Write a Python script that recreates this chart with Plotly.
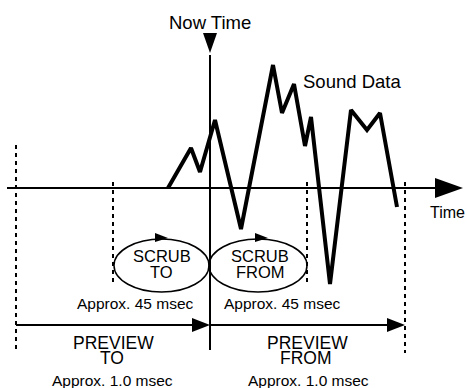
import plotly.graph_objects as go

# ── canvas (pixel coordinates, y grows downward) ──────────────────────────
W, H = 467, 388
INK = "#000000"
FONT = "Liberation Sans, Arial, Helvetica, sans-serif"

# ── sound data waveform ───────────────────────────────────────────────────
wave_x = [168, 191, 200, 215, 241, 273, 282, 294, 305, 311, 330, 351, 367, 380, 397]
wave_y = [188, 148, 172, 120, 229, 65, 113, 84, 146, 117, 284, 110, 130, 113, 207]

# ── time markers ──────────────────────────────────────────────────────────
axis_y = 188
axis_x0, axis_x1 = 7, 463
now_x = 210
now_top, now_bottom = 55, 350

# dotted guides: x, top, bottom
guide_x = [16, 113, 307, 405]
guide_top = [145, 182, 182, 182]
guide_bottom = [353, 283, 282, 353]

# scrub ellipses: left, right, top, bottom
scrub_x0 = [114, 209]
scrub_x1 = [209, 307]
scrub_y0, scrub_y1 = 239, 292
scrub_arrow_tip = [168, 268]

# preview arrows
preview_y = 325
preview_x0 = [16, 210]
preview_x1 = [210, 405]

fig = go.Figure()

fig.add_trace(go.Scatter(
    x=wave_x, y=wave_y, mode="lines",
    line=dict(color=INK, width=4),
    hoverinfo="skip", showlegend=False,
))

shapes = []


def tri(pts):
    return "M " + " L ".join(f"{a},{b}" for a, b in pts) + " Z"


# time axis + arrowhead
shapes.append(dict(type="line", x0=axis_x0, x1=axis_x1 - 26, y0=axis_y, y1=axis_y,
                   line=dict(color=INK, width=2)))
shapes.append(dict(type="path", path=tri([(axis_x1 - 28, axis_y - 10),
                                          (axis_x1, axis_y),
                                          (axis_x1 - 28, axis_y + 10)]),
                   fillcolor=INK, line=dict(color=INK, width=0)))

# now time line + marker
shapes.append(dict(type="line", x0=now_x, x1=now_x, y0=now_top, y1=now_bottom,
                   line=dict(color=INK, width=2)))
shapes.append(dict(type="path", path=tri([(now_x - 7, 33), (now_x + 7, 33), (now_x, 53)]),
                   fillcolor=INK, line=dict(color=INK, width=0)))

# dotted guides
for gx, gt, gb in zip(guide_x, guide_top, guide_bottom):
    shapes.append(dict(type="line", x0=gx, x1=gx, y0=gt, y1=gb,
                       line=dict(color=INK, width=2, dash="4px,4px")))

# scrub ellipses with small arrows on top
for ex0, ex1, tip in zip(scrub_x0, scrub_x1, scrub_arrow_tip):
    shapes.append(dict(type="circle", x0=ex0, x1=ex1, y0=scrub_y0, y1=scrub_y1,
                       line=dict(color=INK, width=1.5)))
    shapes.append(dict(type="path", path=tri([(tip - 13, scrub_y0 - 6),
                                              (tip, scrub_y0 - 1),
                                              (tip - 13, scrub_y0 + 3)]),
                       fillcolor=INK, line=dict(color=INK, width=0)))

# preview arrows
for px0, px1 in zip(preview_x0, preview_x1):
    shapes.append(dict(type="line", x0=px0, x1=px1 - 16, y0=preview_y, y1=preview_y,
                       line=dict(color=INK, width=2)))
    shapes.append(dict(type="path", path=tri([(px1 - 18, preview_y - 7),
                                              (px1, preview_y),
                                              (px1 - 18, preview_y + 7)]),
                       fillcolor=INK, line=dict(color=INK, width=0)))

# ── labels: text, x, y, size ─────────────────────────────────────────────
labels = [
    ("Now Time", 210, 22, 18.5),
    ("Sound Data", 352, 81, 18.5),
    ("Time", 447, 212, 16),
    ("SCRUB", 162, 256, 16.5),
    ("TO", 161, 272, 16.5),
    ("SCRUB", 260, 256, 16.5),
    ("FROM", 260, 272, 16.5),
    ("Approx. 45 msec", 135, 303, 15.5),
    ("Approx. 45 msec", 282, 303, 15.5),
    ("PREVIEW", 113, 343, 17.5),
    ("TO", 112, 358, 17.5),
    ("PREVIEW", 307, 343, 17.5),
    ("FROM", 306, 358, 17.5),
    ("Approx. 1.0 msec", 112, 380, 15.5),
    ("Approx. 1.0 msec", 308, 380, 15.5),
]

annotations = [
    dict(text=t, x=x, y=y, xref="x", yref="y", showarrow=False,
         xanchor="center", yanchor="middle",
         font=dict(family=FONT, size=s, color=INK))
    for t, x, y, s in labels
]

fig.update_layout(
    width=W, height=H,
    margin=dict(l=0, r=0, t=0, b=0),
    paper_bgcolor="white", plot_bgcolor="white",
    xaxis=dict(range=[0, W], visible=False, fixedrange=True),
    yaxis=dict(range=[H, 0], visible=False, fixedrange=True),
    shapes=shapes,
    annotations=annotations,
    showlegend=False,
)

fig.write_html("out.html", config={"displayModeBar": False},
               post_script="document.body.style.margin='0';")
